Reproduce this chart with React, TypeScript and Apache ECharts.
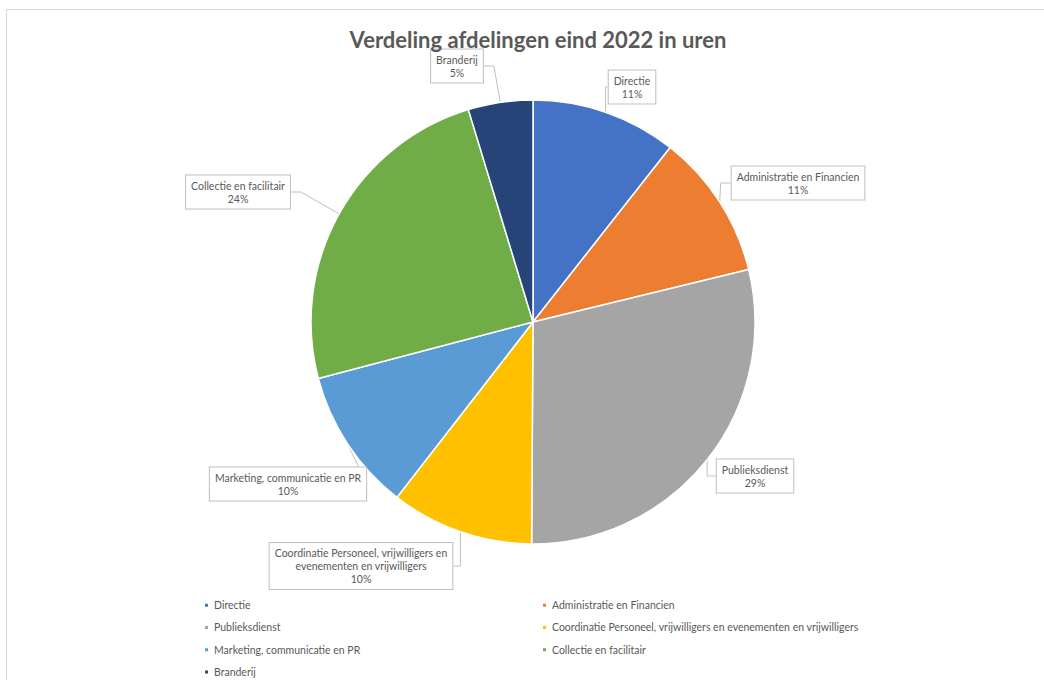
import React, { useEffect, useRef } from "react";
import * as echarts from "echarts";

const categories = [
  "Directie",
  "Administratie en Financien",
  "Publieksdienst",
  "Coordinatie Personeel, vrijwilligers en evenementen en vrijwilligers",
  "Marketing, communicatie en PR",
  "Collectie en facilitair",
  "Branderij",
];
const labelTexts = [
  "Directie",
  "Administratie en Financien",
  "Publieksdienst",
  "Coordinatie Personeel, vrijwilligers en\nevenementen en vrijwilligers",
  "Marketing, communicatie en PR",
  "Collectie en facilitair",
  "Branderij",
];
const values = [10.6, 10.6, 28.9, 10.4, 10.4, 24.4, 4.7];
const colors = ["#4472C4", "#ED7D31", "#A5A5A5", "#FFC000", "#5B9BD5", "#70AD47", "#264478"];
const title = "Verdeling afdelingen eind 2022 in uren";

const FONT = "Lato, 'Liberation Sans', sans-serif";

export default function App() {
  const ref = useRef<HTMLDivElement>(null);
  useEffect(() => {
    if (!ref.current) return;
    const chart = echarts.init(ref.current, null, { renderer: "svg" });
    const labelPos: [number, number][] = [
      [632, 87],
      [798, 183],
      [755, 476],
      [361, 566],
      [288, 484],
      [238, 192],
      [457, 66],
    ];
    chart.setOption({
      animation: false,
      backgroundColor: "#ffffff",
      title: {
        text: title,
        left: 533,
        textAlign: "center",
        top: 23,
        textStyle: { fontFamily: FONT, fontSize: 22, fontWeight: "bold", color: "#595959" },
      },
      graphic: [
        {
          type: "rect",
          shape: { x: 6.5, y: 9.5, width: 1100, height: 700 },
          style: { fill: "none", stroke: "#d9d9d9", lineWidth: 1 },
          silent: true,
          z: -1,
        },
      ],
      legend: {
        left: 198,
        top: 594,
        width: 720,
        orient: "horizontal",
        icon: "rect",
        itemWidth: 5,
        itemHeight: 5,
        itemGap: 10,
        data: categories,
        textStyle: { fontFamily: FONT, fontSize: 10.5, color: "#595959", width: 317, lineHeight: 12.3 },
      },
      series: [
        {
          type: "pie",
          center: [533, 322],
          radius: 222,
          startAngle: 90,
          clockwise: true,
          avoidLabelOverlap: false,
          percentPrecision: 0,
          itemStyle: { borderColor: "#ffffff", borderWidth: 1.5 },
          data: categories.map((c, i) => ({
            name: c,
            value: values[i],
            itemStyle: { color: colors[i] },
            label: {
              formatter: labelTexts[i] + "\n{d}%",
            },
          })),
          label: {
            show: true,
            position: "outside",
            fontFamily: FONT,
            fontSize: 10.5,
            lineHeight: 13,
            color: "#595959",
            backgroundColor: "#ffffff",
            borderColor: "#bfbfbf",
            borderWidth: 1,
            padding: [4, 5, 3, 5],
            align: "center",
          },
          labelLine: {
            show: true,
            length: 10,
            length2: 10,
            lineStyle: { color: "#bfbfbf", width: 1 },
          },
          labelLayout: (params: any) => ({
            x: labelPos[params.dataIndex][0],
            y: labelPos[params.dataIndex][1],
            align: "center",
            verticalAlign: "middle",
          }),
        },
      ],
    });
    return () => chart.dispose();
  }, []);
  return (
    <div
      ref={ref}
      style={{ position: "absolute", left: 0, top: 0, width: 1044, height: 680 }}
    />
  );
}
